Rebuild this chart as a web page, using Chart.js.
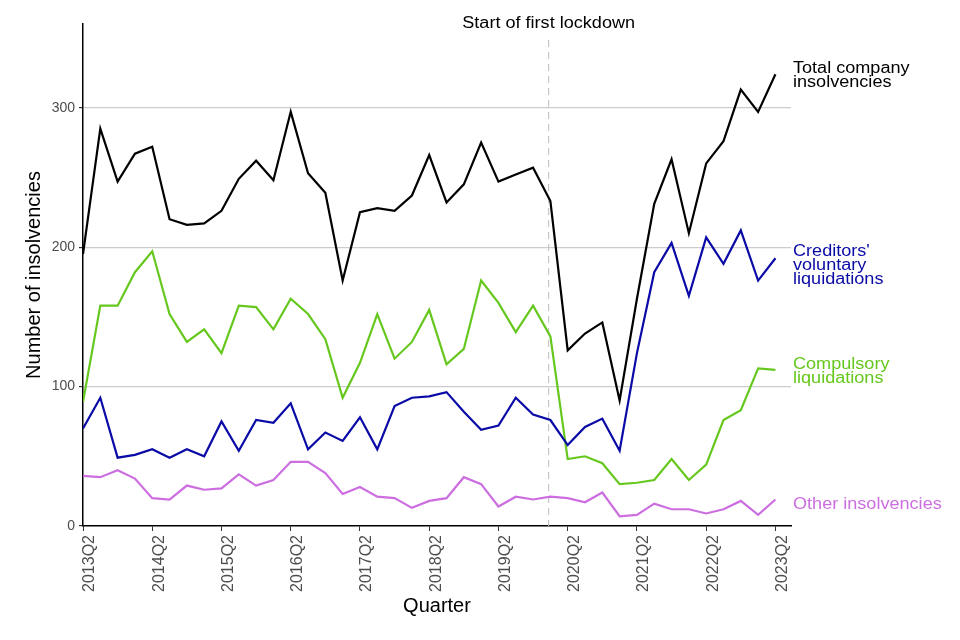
<!DOCTYPE html>
<html>
<head>
<meta charset="utf-8">
<script src="https://cdn.jsdelivr.net/npm/chart.js@4.4.1/dist/chart.umd.min.js"></script>
<style>
  html, body { margin: 0; padding: 0; background: #fff; }
  #wrap { width: 960px; height: 640px; }
</style>
</head>
<body>
<div id="wrap"><canvas id="insolvencyChart" width="960" height="640"></canvas></div>
<script>
// quarters 2013Q2 .. 2023Q2
const quarters = [];
for (let y = 2013; y <= 2023; y++) {
    for (let q = 1; q <= 4; q++) {
        if ((y === 2013 && q < 2) || (y === 2023 && q > 2)) continue;
        quarters.push(y + 'Q' + q);
    }
}

const totalInsolvencies = [195, 285, 247, 267, 272, 220, 216, 217, 226, 249, 262, 248, 297, 253,
    239, 176, 225, 228, 226, 237, 266, 232, 245, 275, 247, 252, 257, 233,
    126, 138, 146, 90, 163, 231, 263, 210, 260, 276, 313, 297, 324];
const creditorsVoluntary = [70, 92, 49, 51, 55, 49, 55, 50, 75, 54, 76, 74, 88, 55,
    67, 61, 78, 55, 86, 92, 93, 96, 82, 69, 72, 92, 80, 76,
    58, 71, 77, 54, 124, 182, 203, 165, 207, 188, 212, 176, 192];
const compulsoryLiq = [89, 158, 158, 182, 197, 152, 132, 141, 124, 158, 157, 141, 163, 152,
    134, 92, 117, 152, 120, 132, 155, 116, 127, 176, 160, 139, 158, 136,
    48, 50, 45, 30, 31, 33, 48, 33, 44, 76, 83, 113, 112];
const otherInsolvencies = [36, 35, 40, 34, 20, 19, 29, 26, 27, 37, 29, 33, 46, 46,
    38, 23, 28, 21, 20, 13, 18, 20, 35, 30, 14, 21, 19, 21,
    20, 17, 24, 7, 8, 16, 12, 12, 9, 12, 18, 8, 19];

const yTickValues = [0, 100, 200, 300];
const lockdownIndex = 26.9;   // just before 2020Q1

const FONT = '"Liberation Sans", Arial, sans-serif';

const seriesStyle = [
    { label: 'Total company insolvencies', data: totalInsolvencies, color: '#000000',
      lines: ['Total company', 'insolvencies'], anchor: 323 },
    { label: "Creditors' voluntary liquidations", data: creditorsVoluntary, color: '#0a0aa6',
      lines: ["Creditors'", 'voluntary', 'liquidations'], anchor: 187 },
    { label: 'Compulsory liquidations', data: compulsoryLiq, color: '#66c81e',
      lines: ['Compulsory', 'liquidations'], anchor: 111 },
    { label: 'Other insolvencies', data: otherInsolvencies, color: '#cc6ee0',
      lines: ['Other insolvencies'], anchor: 15 },
];

// text is a little wider than tall in the original
function wideText(ctx, text, x, y, sx) {
    ctx.save();
    ctx.translate(x, y);
    ctx.scale(sx, 1);
    ctx.fillText(text, 0, 0);
    ctx.restore();
}

const endLabels = {
    id: 'endLabels',
    beforeDatasetsDraw(chart) {
        const { ctx, chartArea, scales } = chart;
        const x = scales.x.getPixelForValue(lockdownIndex);
        ctx.save();
        ctx.strokeStyle = '#bdbdbd';
        ctx.lineWidth = 1;
        ctx.setLineDash([7, 5]);
        ctx.beginPath();
        ctx.moveTo(x, 40);
        ctx.lineTo(x, chartArea.bottom);
        ctx.stroke();
        ctx.restore();
    },
    afterDatasetsDraw(chart) {
        const { ctx, chartArea, scales } = chart;
        ctx.save();
        ctx.font = '16px ' + FONT;
        ctx.textBaseline = 'middle';
        ctx.textAlign = 'left';
        seriesStyle.forEach(s => {
            const cy = scales.y.getPixelForValue(s.anchor);
            const lh = 14;
            const startY = cy - (s.lines.length - 1) * lh / 2;
            ctx.fillStyle = s.color;
            s.lines.forEach((t, i) => wideText(ctx, t, chartArea.right + 2, startY + i * lh, 1.13));
        });
        ctx.fillStyle = '#000';
        ctx.textAlign = 'center';
        wideText(ctx, 'Start of first lockdown', scales.x.getPixelForValue(lockdownIndex), 24, 1.13);
        ctx.restore();
    }
};

const ctx = document.getElementById('insolvencyChart').getContext('2d');
new Chart(ctx, {
    type: 'line',
    data: {
        datasets: seriesStyle.map(s => ({
            label: s.label,
            data: s.data.map((v, i) => ({ x: i, y: v })),
            borderColor: s.color,
            borderWidth: 2.2,
            pointRadius: 0,
            tension: 0,
            fill: false,
        })),
    },
    options: {
        responsive: false,
        animation: false,
        layout: { padding: { left: 22, right: 169, top: 24, bottom: 20 } },
        plugins: {
            legend: { display: false },
            tooltip: { enabled: false },
        },
        scales: {
            x: {
                type: 'linear',
                min: 0,
                max: 40.9,
                afterBuildTicks: (scale) => {
                    scale.ticks = [];
                    for (let i = 0; i < quarters.length; i += 4) scale.ticks.push({ value: i });
                },
                afterFit: (scale) => { scale.height = 94; },
                ticks: {
                    autoSkip: false,
                    minRotation: 90,
                    maxRotation: 90,
                    color: '#4d4d4d',
                    font: { family: FONT, size: 16 },
                    padding: 4,
                    labelOffset: 7,
                    callback: (v) => quarters[v],
                },
                grid: { drawOnChartArea: false, drawTicks: true, tickLength: 5, tickColor: '#333' },
                border: { display: true, color: '#000', width: 1.5 },
                title: {
                    display: true,
                    text: 'Quarter',
                    color: '#000',
                    font: { family: FONT, size: 20 },
                    padding: { top: 0, bottom: 2 },
                },
            },
            y: {
                min: 0,
                max: 360,
                afterBuildTicks: (scale) => {
                    scale.ticks = yTickValues.map(v => ({ value: v }));
                },
                afterFit: (scale) => { scale.width = 61; },
                ticks: {
                    color: '#4d4d4d',
                    font: { family: FONT, size: 14 },
                    padding: 4,
                },
                grid: {
                    color: (c) => c.tick && c.tick.value === 0 ? 'rgba(0,0,0,0)' : '#cccccc',
                    lineWidth: 1.2,
                    drawTicks: true,
                    tickLength: 4,
                    tickColor: '#333',
                },
                border: { display: true, color: '#000', width: 1.5 },
                title: {
                    display: true,
                    text: 'Number of insolvencies',
                    color: '#000',
                    font: { family: FONT, size: 20 },
                    padding: { top: 0, bottom: 0 },
                },
            },
        },
    },
    plugins: [endLabels],
});
</script>
</body>
</html>
